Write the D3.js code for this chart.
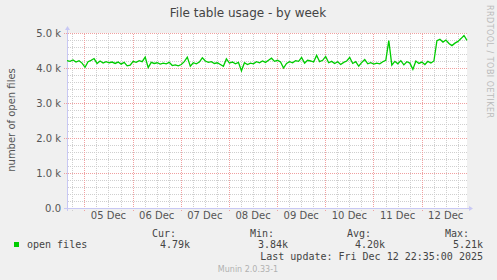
<!DOCTYPE html>
<html>
<head>
<meta charset="utf-8">
<script src="https://d3js.org/d3.v7.min.js"></script>
<style>
  body { margin: 0; background: #f0f0f0; }
  text { font-family: "DejaVu Sans", sans-serif; }
  .mono { font-family: "DejaVu Sans Mono", monospace; font-size: 10px; fill: #444; }
</style>
</head>
<body>
<div id="chart"></div>
<script>
var title = "File table usage - by week";
var yLabel = "number of open files";
var sideNote = "RRDTOOL / TOBI OETIKER";
var footer = "Munin 2.0.33-1";
var lastUpdate = "Last update: Fri Dec 12 22:35:00 2025";
var yTicks = [0, 1000, 2000, 3000, 4000, 5000];
var yTickLabels = ["0.0", "1.0 k", "2.0 k", "3.0 k", "4.0 k", "5.0 k"];
var seriesName = "open files";
var legendHeads = ["Cur:", "Min:", "Avg:", "Max:"];
var legendValues = ["4.79k", "3.84k", "4.20k", "5.21k"];

// time window of the graph (UTC), samples every 1.5 h
var startTime = Date.UTC(2025, 11, 4, 15, 20);
var endTime = Date.UTC(2025, 11, 12, 22, 35);

var openFiles = [
  4210, 4190, 4230, 4170, 4210, 4140, 4020, 4180, 4220, 4270,
  4130, 4200, 4140, 4180, 4150, 4170, 4130, 4170, 4110, 4160,
  4060, 4080, 4190, 4160, 4210, 4180, 4310, 4010, 4160, 4130,
  4150, 4110, 4140, 4120, 4160, 4070, 4090, 4060, 4100, 4180,
  4310, 4050, 4150, 4120, 4170, 4290, 4200, 4160, 4180, 4130,
  4150, 4100, 4050, 4260, 4140, 4170, 4120, 4160, 3920, 4150,
  4100, 4140, 4120, 4180, 4150, 4200, 4160, 4220, 4280, 4190,
  4220, 4170, 4000, 4130, 4180, 4150, 4210, 4190, 4300, 4140,
  4220, 4200, 4170, 4360, 4180, 4220, 4330, 4150, 4190, 4130,
  4180, 4100, 4160, 4200, 4300, 4130, 4180, 4050, 4160, 4240,
  4120, 4150, 4110, 4140, 4120, 4180, 4220, 4780, 4080, 4190,
  4120, 4210, 4090, 4180, 4140, 3960, 4200, 4130, 4170, 4100,
  4190, 4140, 4200, 4780, 4820, 4740, 4800, 4700, 4640, 4710,
  4760, 4840, 4930, 4790
];

var W = 497, H = 280;
var plot = {left: 67, right: 467, top: 33, bottom: 208};

var svg = d3.select("#chart").append("svg")
  .attr("width", W).attr("height", H);

// dotted patterns, one pixel on / one off
var defs = svg.append("defs");
function dotPattern(id, color, horizontal) {
  var p = defs.append("pattern").attr("id", id)
    .attr("patternUnits", "userSpaceOnUse")
    .attr("width", horizontal ? 2 : 1).attr("height", horizontal ? 1 : 2);
  p.append("rect").attr("width", 1).attr("height", 1).attr("fill", color);
}
dotPattern("minH", "#cfcfcf", true);
dotPattern("minV", "#cfcfcf", false);
dotPattern("majH", "#f0a0a0", true);
dotPattern("majV", "#f0a0a0", false);

svg.append("rect").attr("width", W).attr("height", H).attr("fill", "#f0f0f0");

var x = d3.scaleUtc()
  .domain([new Date(startTime), new Date(endTime)])
  .range([plot.left, plot.right]);
var y = d3.scaleLinear()
  .domain([0, 5000])
  .range([plot.bottom, plot.top]);

var step = (endTime - startTime) / (openFiles.length - 1);
var data = openFiles.map(function(v, i) {
  return {t: new Date(startTime + i * step), v: v};
});

// plot background
svg.append("rect")
  .attr("x", plot.left).attr("y", plot.top)
  .attr("width", plot.right - plot.left).attr("height", plot.bottom - plot.top)
  .attr("fill", "#ffffff");

var grid = svg.append("g").attr("shape-rendering", "crispEdges");

function hLines(cls, vals, pat, x0) {
  grid.selectAll("." + cls).data(vals).enter().append("rect")
    .attr("x", x0).attr("width", plot.right - x0)
    .attr("y", function(d) { return Math.round(y(d)); }).attr("height", 1)
    .attr("fill", "url(#" + pat + ")");
}
function vLines(cls, vals, pat) {
  grid.selectAll("." + cls).data(vals).enter().append("rect")
    .attr("x", function(d) { return Math.round(x(d)); }).attr("width", 1)
    .attr("y", plot.top).attr("height", plot.bottom - plot.top + 3)
    .attr("fill", "url(#" + pat + ")");
}

// minor grid: every 200 files, every 6 hours
var minorY = d3.range(200, 5001, 200).filter(function(d) { return d % 1000 !== 0; });
hLines("hmin", minorY, "minH", plot.left);
var sixHours = x.ticks(d3.utcHour.every(6)).filter(function(d) { return d.getUTCHours() !== 0; });
vLines("vmin", sixHours, "minV");

// major grid: every 1000, every midnight
hLines("hmaj", yTicks.slice(1), "majH", plot.left - 3);
var days = x.ticks(d3.utcDay.every(1));
vLines("vmaj", days, "majV");

// axes lines + arrows
var axisColor = "#c8c8f4";
grid.append("rect")
  .attr("x", plot.left).attr("width", 1)
  .attr("y", plot.top - 4).attr("height", plot.bottom - plot.top + 7)
  .attr("fill", axisColor);
grid.append("rect")
  .attr("x", plot.left - 3).attr("width", plot.right - plot.left + 6)
  .attr("y", plot.bottom).attr("height", 1)
  .attr("fill", axisColor);
svg.append("path")
  .attr("d", "M" + (plot.left - 2) + "," + (plot.top - 3) + "L" + (plot.left + 0.5) + "," + (plot.top - 7) + "L" + (plot.left + 3) + "," + (plot.top - 3) + "Z")
  .attr("fill", axisColor);
svg.append("path")
  .attr("d", "M" + (plot.right + 2) + "," + (plot.bottom - 2) + "L" + (plot.right + 6) + "," + (plot.bottom + 0.5) + "L" + (plot.right + 2) + "," + (plot.bottom + 3) + "Z")
  .attr("fill", axisColor);

// y tick labels
svg.selectAll(".ylab").data(yTicks).enter().append("text")
  .attr("x", 61).attr("y", function(d) { return y(d) + 3.5; })
  .attr("text-anchor", "end").attr("font-size", "10px").attr("fill", "#555")
  .text(function(d, i) { return yTickLabels[i]; });

// x labels at noon
var noons = days.map(function(d) { return d3.utcHour.offset(d, 12); })
  .filter(function(d) { return x(d) < plot.right; });
svg.selectAll(".xlab").data(noons).enter().append("text")
  .attr("x", function(d) { return x(d); }).attr("y", 219)
  .attr("text-anchor", "middle").attr("font-size", "10px").attr("fill", "#555")
  .text(function(d) { return d3.utcFormat("%d %b")(d); });

// series line
svg.append("path")
  .datum(data)
  .attr("fill", "none")
  .attr("stroke", "#00cc00")
  .attr("stroke-width", 1.3)
  .attr("d", d3.line()
    .x(function(d) { return x(d.t); })
    .y(function(d) { return y(d.v); }));

// title
svg.append("text")
  .attr("x", 248).attr("y", 17)
  .attr("text-anchor", "middle").attr("font-size", "12px").attr("fill", "#444")
  .text(title);

// y axis label
svg.append("text")
  .attr("transform", "translate(15,120) rotate(-90)")
  .attr("text-anchor", "middle").attr("font-size", "10px").attr("fill", "#555")
  .text(yLabel);

// rrdtool note
svg.append("text")
  .attr("transform", "translate(487,5) rotate(90)")
  .attr("text-anchor", "start").attr("font-size", "8px").attr("fill", "#bbbbbb")
  .attr("textLength", 113).attr("lengthAdjust", "spacing")
  .text(sideNote);

// legend
svg.append("rect")
  .attr("x", 14).attr("y", 242).attr("width", 5).attr("height", 5)
  .attr("fill", "#00cc00");
svg.append("text").attr("class", "mono")
  .attr("x", 27).attr("y", 248).text(seriesName);

var headX = [176, 274, 371, 469];
var valX = [190, 288, 385, 483];
svg.selectAll(".lhead").data(legendHeads).enter().append("text")
  .attr("class", "mono").attr("text-anchor", "end")
  .attr("x", function(d, i) { return headX[i]; }).attr("y", 237)
  .text(function(d) { return d; });
svg.selectAll(".lval").data(legendValues).enter().append("text")
  .attr("class", "mono").attr("text-anchor", "end")
  .attr("x", function(d, i) { return valX[i]; }).attr("y", 248)
  .text(function(d) { return d; });

svg.append("text").attr("class", "mono")
  .attr("text-anchor", "end").attr("x", 483).attr("y", 260)
  .text(lastUpdate);

svg.append("text")
  .attr("x", 248).attr("y", 272)
  .attr("text-anchor", "middle").attr("font-size", "8px").attr("fill", "#b0b0b0")
  .text(footer);
</script>
</body>
</html>
